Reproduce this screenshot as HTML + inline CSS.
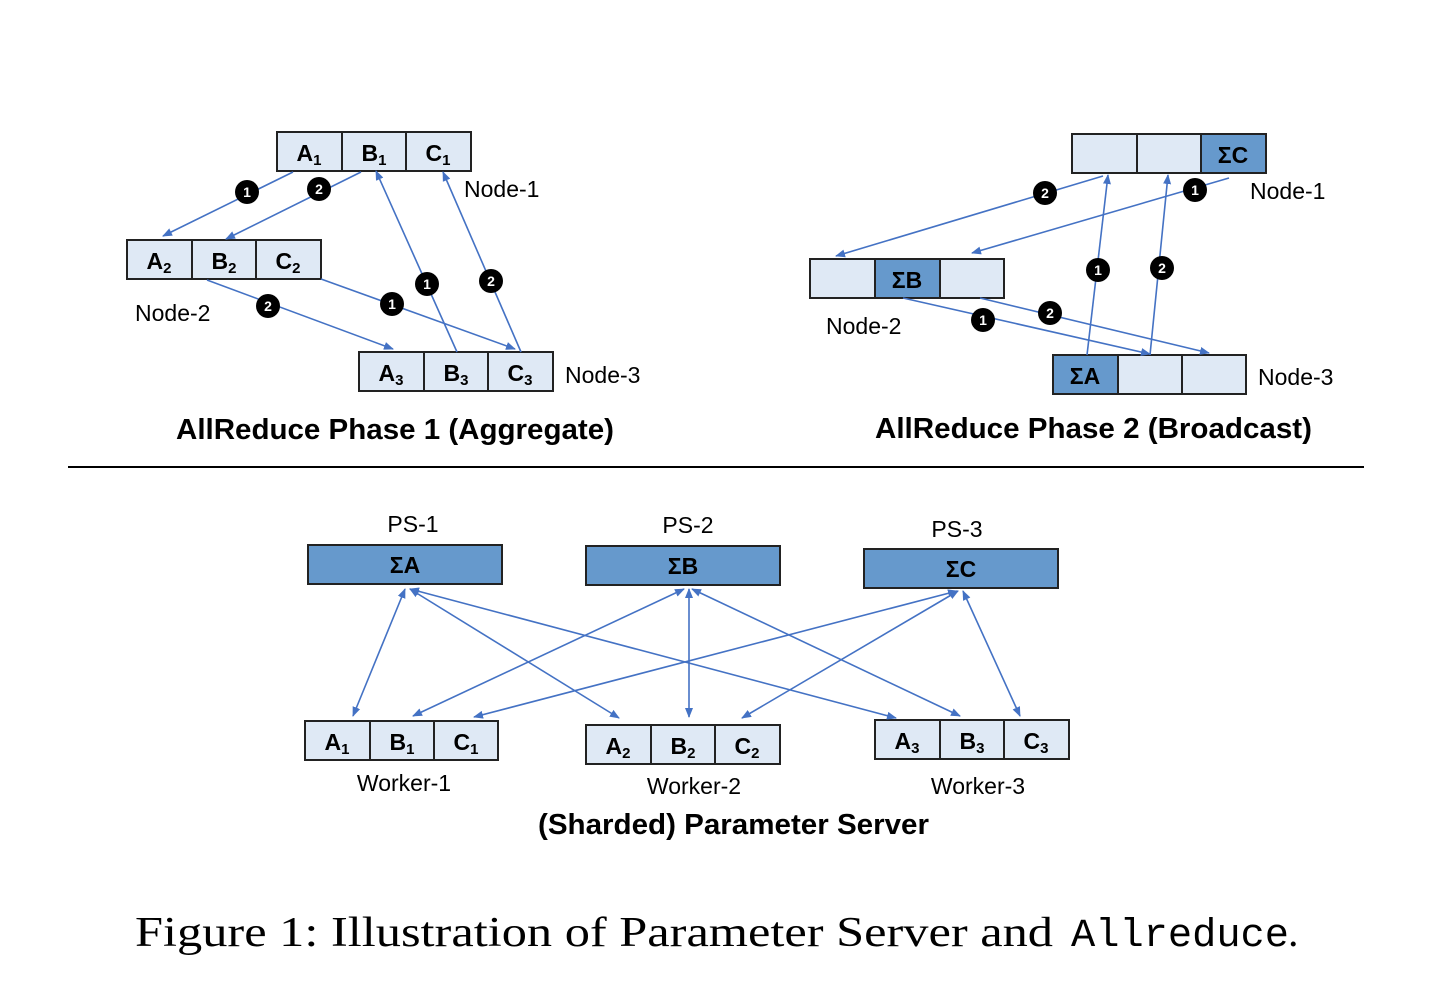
<!DOCTYPE html>
<html><head><meta charset="utf-8"><style>
html,body{margin:0;padding:0;background:#fff;}
svg{display:block;}
.cell{fill:#dfe9f5;stroke:#222;stroke-width:2;}
.dk{fill:#6699cc;stroke:#222;stroke-width:2;}
.ln{stroke:#4472c4;stroke-width:1.6;fill:none;}
.lbl{font-family:"Liberation Sans",sans-serif;font-size:23px;fill:#000;}
.cl{font-family:"Liberation Sans",sans-serif;font-size:23px;font-weight:bold;fill:#000;text-anchor:middle;}
.sub{font-size:15px;}
.bd circle{fill:#000;}
.bd text{font-family:"Liberation Sans",sans-serif;font-size:14px;font-weight:bold;fill:#fff;text-anchor:middle;}
.ttl{font-family:"Liberation Sans",sans-serif;font-size:29px;font-weight:bold;fill:#000;}
</style></head><body>
<svg width="1430" height="998" viewBox="0 0 1430 998" xmlns="http://www.w3.org/2000/svg">
<defs>
<marker id="ah" viewBox="0 0 10 10" refX="9" refY="5" markerWidth="10" markerHeight="10" markerUnits="userSpaceOnUse" orient="auto-start-reverse">
<path d="M0,1 L10,5 L0,9 z" fill="#4472c4"/></marker>
</defs>

<g>
<rect class="cell" x="277" y="132" width="65" height="39"/><rect class="cell" x="342" y="132" width="64" height="39"/><rect class="cell" x="406" y="132" width="65" height="39"/>
<text class="cl" x="309" y="161">A<tspan class="sub" dy="4">1</tspan></text>
<text class="cl" x="374" y="161">B<tspan class="sub" dy="4">1</tspan></text>
<text class="cl" x="438" y="161">C<tspan class="sub" dy="4">1</tspan></text>
<text class="lbl" x="464" y="197">Node-1</text>

<rect class="cell" x="127" y="240" width="65" height="39"/><rect class="cell" x="192" y="240" width="64" height="39"/><rect class="cell" x="256" y="240" width="65" height="39"/>
<text class="cl" x="159" y="269">A<tspan class="sub" dy="4">2</tspan></text>
<text class="cl" x="224" y="269">B<tspan class="sub" dy="4">2</tspan></text>
<text class="cl" x="288" y="269">C<tspan class="sub" dy="4">2</tspan></text>
<text class="lbl" x="135" y="321">Node-2</text>

<rect class="cell" x="359" y="352" width="65" height="39"/><rect class="cell" x="424" y="352" width="64" height="39"/><rect class="cell" x="488" y="352" width="65" height="39"/>
<text class="cl" x="391" y="381">A<tspan class="sub" dy="4">3</tspan></text>
<text class="cl" x="456" y="381">B<tspan class="sub" dy="4">3</tspan></text>
<text class="cl" x="520" y="381">C<tspan class="sub" dy="4">3</tspan></text>
<text class="lbl" x="565" y="383">Node-3</text>

<line class="ln" x1="293" y1="172" x2="163" y2="236" marker-end="url(#ah)"/>
<line class="ln" x1="361" y1="172" x2="226" y2="239" marker-end="url(#ah)"/>
<line class="ln" x1="457" y1="352" x2="376" y2="171" marker-end="url(#ah)"/>
<line class="ln" x1="521" y1="352" x2="443" y2="172" marker-end="url(#ah)"/>
<line class="ln" x1="207" y1="280" x2="393" y2="349" marker-end="url(#ah)"/>
<line class="ln" x1="321" y1="279" x2="515" y2="349" marker-end="url(#ah)"/>

<g class="bd"><circle cx="247" cy="192" r="12"/><text x="247" y="197">1</text></g>
<g class="bd"><circle cx="319" cy="189" r="12"/><text x="319" y="194">2</text></g>
<g class="bd"><circle cx="427" cy="284" r="12"/><text x="427" y="289">1</text></g>
<g class="bd"><circle cx="491" cy="281" r="12"/><text x="491" y="286">2</text></g>
<g class="bd"><circle cx="268" cy="306" r="12"/><text x="268" y="311">2</text></g>
<g class="bd"><circle cx="392" cy="304" r="12"/><text x="392" y="309">1</text></g>

<text class="ttl" x="176" y="439" textLength="438" lengthAdjust="spacingAndGlyphs">AllReduce Phase 1 (Aggregate)</text>
</g>

<g>
<rect class="cell" x="1072" y="134" width="65" height="39"/><rect class="cell" x="1137" y="134" width="64" height="39"/><rect class="dk" x="1201" y="134" width="65" height="39"/>
<text class="cl" x="1233" y="163">ΣC</text>
<text class="lbl" x="1250" y="199">Node-1</text>

<rect class="cell" x="810" y="259" width="65" height="39"/><rect class="dk" x="875" y="259" width="65" height="39"/><rect class="cell" x="940" y="259" width="64" height="39"/>
<text class="cl" x="907" y="288">ΣB</text>
<text class="lbl" x="826" y="334">Node-2</text>

<rect class="dk" x="1053" y="355" width="65" height="39"/><rect class="cell" x="1118" y="355" width="64" height="39"/><rect class="cell" x="1182" y="355" width="64" height="39"/>
<text class="cl" x="1085" y="384">ΣA</text>
<text class="lbl" x="1258" y="385">Node-3</text>

<line class="ln" x1="1103" y1="176" x2="836" y2="256" marker-end="url(#ah)"/>
<line class="ln" x1="1229" y1="178" x2="972" y2="253" marker-end="url(#ah)"/>
<line class="ln" x1="1087" y1="355" x2="1108" y2="175" marker-end="url(#ah)"/>
<line class="ln" x1="1150" y1="355" x2="1168" y2="175" marker-end="url(#ah)"/>
<line class="ln" x1="903" y1="298" x2="1150" y2="354" marker-end="url(#ah)"/>
<line class="ln" x1="980" y1="298" x2="1209" y2="353" marker-end="url(#ah)"/>

<g class="bd"><circle cx="1045" cy="193" r="12"/><text x="1045" y="198">2</text></g>
<g class="bd"><circle cx="1195" cy="190" r="12"/><text x="1195" y="195">1</text></g>
<g class="bd"><circle cx="1098" cy="270" r="12"/><text x="1098" y="275">1</text></g>
<g class="bd"><circle cx="1162" cy="268" r="12"/><text x="1162" y="273">2</text></g>
<g class="bd"><circle cx="983" cy="320" r="12"/><text x="983" y="325">1</text></g>
<g class="bd"><circle cx="1050" cy="313" r="12"/><text x="1050" y="318">2</text></g>

<text class="ttl" x="875" y="438" textLength="437" lengthAdjust="spacingAndGlyphs">AllReduce Phase 2 (Broadcast)</text>
</g>

<line x1="68" y1="467" x2="1364" y2="467" stroke="#000" stroke-width="2"/>

<g>
<text class="lbl" x="413" y="532" text-anchor="middle">PS-1</text>
<text class="lbl" x="688" y="533" text-anchor="middle">PS-2</text>
<text class="lbl" x="957" y="537" text-anchor="middle">PS-3</text>
<rect class="dk" x="308" y="545" width="194" height="39"/><text class="cl" x="405" y="573">ΣA</text>
<rect class="dk" x="586" y="546" width="194" height="39"/><text class="cl" x="683" y="574">ΣB</text>
<rect class="dk" x="864" y="549" width="194" height="39"/><text class="cl" x="961" y="577">ΣC</text>

<rect class="cell" x="305" y="721" width="65" height="39"/><rect class="cell" x="370" y="721" width="64" height="39"/><rect class="cell" x="434" y="721" width="64" height="39"/>
<text class="cl" x="337" y="750">A<tspan class="sub" dy="4">1</tspan></text>
<text class="cl" x="402" y="750">B<tspan class="sub" dy="4">1</tspan></text>
<text class="cl" x="466" y="750">C<tspan class="sub" dy="4">1</tspan></text>
<rect class="cell" x="586" y="725" width="65" height="39"/><rect class="cell" x="651" y="725" width="64" height="39"/><rect class="cell" x="715" y="725" width="65" height="39"/>
<text class="cl" x="618" y="754">A<tspan class="sub" dy="4">2</tspan></text>
<text class="cl" x="683" y="754">B<tspan class="sub" dy="4">2</tspan></text>
<text class="cl" x="747" y="754">C<tspan class="sub" dy="4">2</tspan></text>
<rect class="cell" x="875" y="720" width="65" height="39"/><rect class="cell" x="940" y="720" width="64" height="39"/><rect class="cell" x="1004" y="720" width="65" height="39"/>
<text class="cl" x="907" y="749">A<tspan class="sub" dy="4">3</tspan></text>
<text class="cl" x="972" y="749">B<tspan class="sub" dy="4">3</tspan></text>
<text class="cl" x="1036" y="749">C<tspan class="sub" dy="4">3</tspan></text>

<text class="lbl" x="404" y="791" text-anchor="middle">Worker-1</text>
<text class="lbl" x="694" y="794" text-anchor="middle">Worker-2</text>
<text class="lbl" x="978" y="794" text-anchor="middle">Worker-3</text>

<g marker-start="url(#ah)" marker-end="url(#ah)">
<line class="ln" x1="405" y1="589" x2="353" y2="716"/>
<line class="ln" x1="410" y1="589" x2="619" y2="718"/>
<line class="ln" x1="410" y1="589" x2="896" y2="718"/>
<line class="ln" x1="684" y1="589" x2="413" y2="716"/>
<line class="ln" x1="689" y1="589" x2="689" y2="717"/>
<line class="ln" x1="692" y1="589" x2="960" y2="716"/>
<line class="ln" x1="957" y1="591" x2="474" y2="717"/>
<line class="ln" x1="958" y1="591" x2="742" y2="718"/>
<line class="ln" x1="963" y1="591" x2="1020" y2="716"/>
</g>

<text class="ttl" x="538" y="834" textLength="391" lengthAdjust="spacingAndGlyphs">(Sharded) Parameter Server</text>
</g>

<text x="135" y="946" font-family="Liberation Serif, serif" font-size="42" textLength="918" lengthAdjust="spacingAndGlyphs">Figure 1: Illustration of Parameter Server and</text>
<text x="1071" y="946" font-family="Liberation Mono, monospace" font-size="40" textLength="218" lengthAdjust="spacingAndGlyphs">Allreduce</text>
<text x="1288" y="946" font-family="Liberation Serif, serif" font-size="42">.</text>
</svg>
</body></html>
